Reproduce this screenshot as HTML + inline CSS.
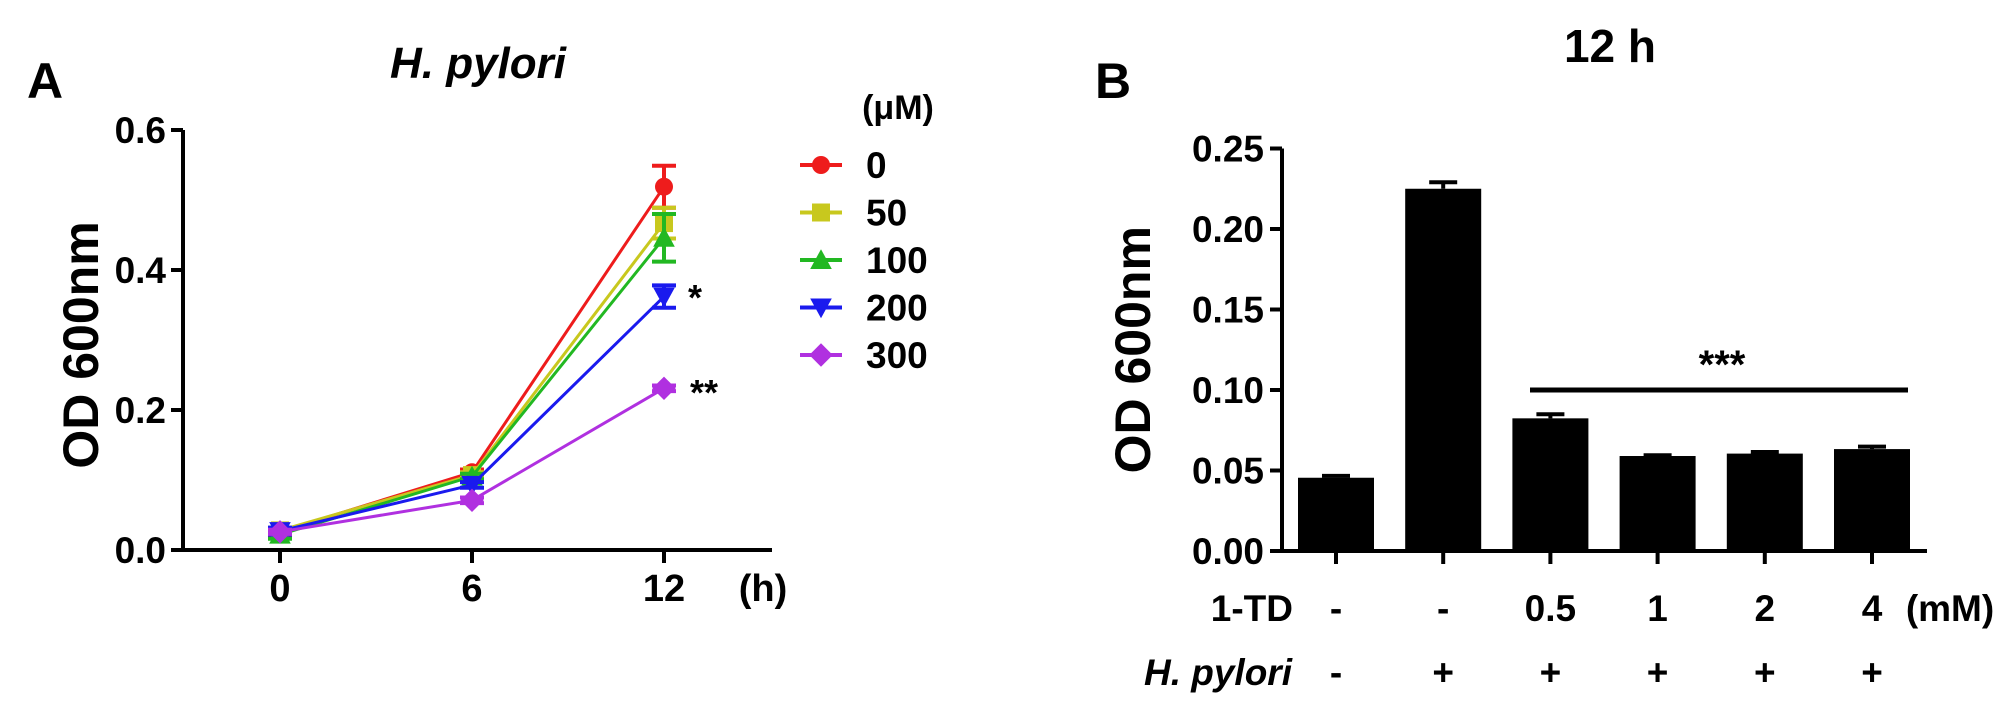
<!DOCTYPE html>
<html><head><meta charset="utf-8"><style>
body{margin:0;background:#fff}
svg{display:block;font-family:"Liberation Sans",Arial,sans-serif;font-weight:bold}
</style></head><body>
<svg id="fig" width="2008" height="709" viewBox="0 0 2008 709">
<g id="pa"></g>
<g id="pb"></g>
</svg>
<script>
const NS="http://www.w3.org/2000/svg";
// Panel A data
const timesA=[0,6,12];
const seriesNames=["0","50","100","200","300"];
const seriesColors=["#ee1c1c","#c8c81e","#22b822","#1a1aee","#b030e0"];
const v0=[0.026,0.111,0.519];
const v50=[0.028,0.107,0.467];
const v100=[0.022,0.105,0.446];
const v200=[0.027,0.093,0.362];
const v300=[0.026,0.071,0.231];
const e0=[0.005,0.004,0.030];
const e50=[0.004,0.004,0.022];
const e100=[0.006,0.004,0.034];
const e200=[0.005,0.004,0.016];
const e300=[0.003,0.004,0.004];
const yTicksA=[0,0.2,0.4,0.6];
const yTickLabelsA=["0.0","0.2","0.4","0.6"];
// Panel B data
const catsTD=["-","-","0.5","1","2","4"];
const catsHP=["-","+","+","+","+","+"];
const barVals=[0.0455,0.225,0.0824,0.059,0.0605,0.0633];
const barErrs=[0.0012,0.004,0.0025,0.0005,0.001,0.0015];
const yTicksB=[0,0.05,0.10,0.15,0.20,0.25];
const yTickLabelsB=["0.00","0.05","0.10","0.15","0.20","0.25"];

function el(tag,attrs,parent,text){const e=document.createElementNS(NS,tag);for(const k in attrs)e.setAttribute(k,attrs[k]);if(text!==undefined)e.textContent=text;parent.appendChild(e);return e;}

// ---------- Panel A ----------
const pa=document.getElementById('pa');
const xA=t=>280+(t/6)*192;
const yA=v=>550-v*700;
let t=el('text',{x:45,y:98,'font-size':50,'text-anchor':'middle'},pa,'A');

t=el('text',{x:478,y:78,'font-size':44,'font-style':'italic','text-anchor':'middle'},pa,'H. pylori');

t=el('text',{x:0,y:0,'font-size':50,'text-anchor':'middle',transform:'translate(98,345) rotate(-90)'},pa,'OD 600nm');

let ax=el('path',{d:`M183 ${yA(0.6)} V550 H772`,stroke:'#000','stroke-width':4,fill:'none'},pa);

yTicksA.forEach((v,i)=>{
 el('line',{x1:171,x2:183,y1:yA(v),y2:yA(v),stroke:'#000','stroke-width':4},pa);
 const l=el('text',{x:166,y:yA(v)+13,'font-size':37,'text-anchor':'end'},pa,yTickLabelsA[i]);
 
});
timesA.forEach(tm=>{
 el('line',{x1:xA(tm),x2:xA(tm),y1:550,y2:563,stroke:'#000','stroke-width':4},pa);
 const l=el('text',{x:xA(tm),y:601,'font-size':38,'text-anchor':'middle'},pa,String(tm));
 
});
t=el('text',{x:763,y:601,'font-size':38,'text-anchor':'middle'},pa,'(h)');

const allV=[v0,v50,v100,v200,v300], allE=[e0,e50,e100,e200,e300];
function marker(i,cx,cy,g,s){
 const c=seriesColors[i];
 if(i===0)return el('circle',{cx,cy,r:s,fill:c},g);
 if(i===1)return el('rect',{x:cx-s,y:cy-s,width:2*s,height:2*s,fill:c},g);
 if(i===2)return el('polygon',{points:`${cx},${cy-s*1.2} ${cx-s*1.2},${cy+s} ${cx+s*1.2},${cy+s}`,fill:c},g);
 if(i===3)return el('polygon',{points:`${cx},${cy+s*1.2} ${cx-s*1.2},${cy-s} ${cx+s*1.2},${cy-s}`,fill:c},g);
 return el('polygon',{points:`${cx},${cy-s*1.3} ${cx+s*1.3},${cy} ${cx},${cy+s*1.3} ${cx-s*1.3},${cy}`,fill:c},g);
}
allV.forEach((vals,i)=>{
 const g=el('g',{},pa);
 
 el('polyline',{points:vals.map((v,j)=>xA(timesA[j])+','+yA(v)).join(' '),fill:'none',stroke:seriesColors[i],'stroke-width':3},g);
 vals.forEach((v,j)=>{
  const x=xA(timesA[j]),e=allE[i][j];
  el('path',{d:`M${x} ${yA(v+e)} V${yA(v-e)} M${x-12} ${yA(v+e)} H${x+12} M${x-12} ${yA(v-e)} H${x+12}`,stroke:seriesColors[i],'stroke-width':4,fill:'none'},g);
  const m=marker(i,x,yA(v),g,9);
  
 });
});
t=el('text',{x:695,y:310,'font-size':36,'text-anchor':'middle'},pa,'*');

t=el('text',{x:704,y:405,'font-size':36,'text-anchor':'middle'},pa,'**');

t=el('text',{x:898,y:119,'font-size':34,'text-anchor':'middle'},pa,'(μM)');

seriesNames.forEach((n,i)=>{
 const y=165+i*47.5;
 const g=el('g',{},pa);
 
 el('line',{x1:800,x2:842,y1:y,y2:y,stroke:seriesColors[i],'stroke-width':4},g);
 marker(i,821,y,g,9);
 el('text',{x:866,y:y+13,'font-size':37},g,n);
});

// ---------- Panel B ----------
const pb=document.getElementById('pb');
const xB=i=>1336+i*107.2;
const yB=v=>551-v*1610;
t=el('text',{x:1113,y:98,'font-size':50,'text-anchor':'middle'},pb,'B');

t=el('text',{x:1610,y:62,'font-size':46,'text-anchor':'middle'},pb,'12 h');

t=el('text',{x:0,y:0,'font-size':50,'text-anchor':'middle',transform:`translate(1150,${yB(0.125)}) rotate(-90)`},pb,'OD 600nm');

barVals.forEach((v,i)=>{
 const x=xB(i),e=barErrs[i];
 el('path',{d:`M${x} ${yB(v)} V${yB(v+e)} M${x-14} ${yB(v+e)} H${x+14}`,stroke:'#000','stroke-width':4},pb);
 const b=el('rect',{x:x-38,y:yB(v),width:76,height:551-yB(v),fill:'#000'},pb);
 
});
ax=el('path',{d:`M1282 ${yB(0.25)} V551 H1927`,stroke:'#000','stroke-width':4,fill:'none'},pb);

yTicksB.forEach((v,i)=>{
 el('line',{x1:1270,x2:1282,y1:yB(v),y2:yB(v),stroke:'#000','stroke-width':4},pb);
 const l=el('text',{x:1264,y:yB(v)+13,'font-size':37,'text-anchor':'end'},pb,yTickLabelsB[i]);
 
});
catsTD.forEach((c,i)=>{
 el('line',{x1:xB(i),x2:xB(i),y1:551,y2:564,stroke:'#000','stroke-width':4},pb);
 let l=el('text',{x:xB(i),y:621,'font-size':37,'text-anchor':'middle'},pb,c);
 
 l=el('text',{x:xB(i),y:685,'font-size':37,'text-anchor':'middle'},pb,catsHP[i]);
 
});
t=el('text',{x:1293,y:621,'font-size':37,'text-anchor':'end'},pb,'1-TD');

t=el('text',{x:1292,y:685,'font-size':37,'text-anchor':'end','font-style':'italic'},pb,'H. pylori');

t=el('text',{x:1950,y:621,'font-size':37,'text-anchor':'middle'},pb,'(mM)');

const sig=el('line',{x1:1530,x2:1908,y1:yB(0.1),y2:yB(0.1),stroke:'#000','stroke-width':5},pb);

t=el('text',{x:1722,y:yB(0.1)-12,'font-size':40,'text-anchor':'middle'},pb,'***');

</script>
</body></html>
